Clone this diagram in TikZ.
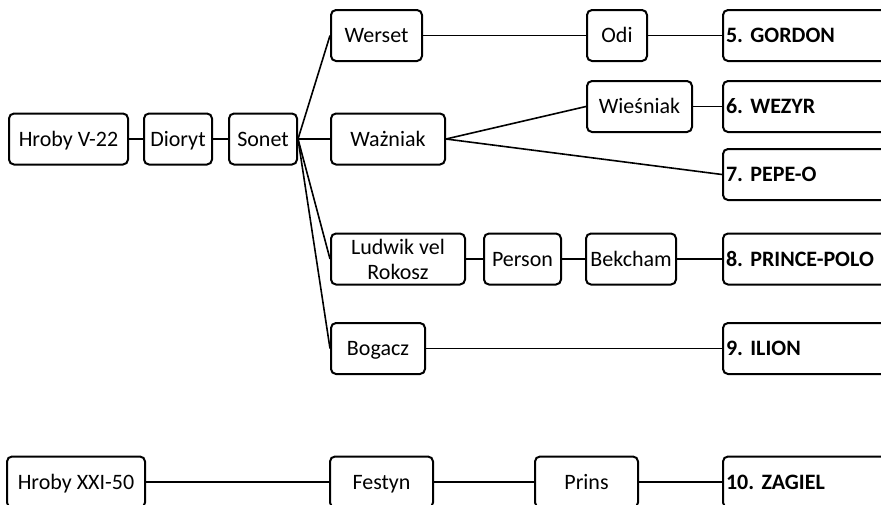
\documentclass[tikz,border=0pt]{standalone}
\usepackage{fontspec}
\setmainfont{Carlito}
\frenchspacing
\begin{document}
\begin{tikzpicture}[x=0.5pt, y=-0.5pt, line width=0.8pt,
  box/.style = {shape=rectangle, rounded corners=2.5pt, draw, line width=1pt,
    align=center, inner sep=0pt, minimum height=25.5pt,
    text height=9.5pt, text depth=2.5pt,
    font=\fontsize{11}{12.5}\selectfont},
  goal/.style = {box, anchor=west, text width=86pt, align=left,
    inner xsep=1.5pt, font=\fontsize{11}{12.5}\selectfont\bfseries}]
  \useasboundingbox (0,0) rectangle (881,504);
  \clip (0,0) rectangle (881,504);
  \node[box, minimum width=59.5pt] (hroby) at (68.5,139) {Hroby V-22};
  \node[box, minimum width=34pt] (dioryt) at (178,139) {Dioryt};
  \node[box, minimum width=34pt] (sonet) at (263,139) {Sonet};
  \node[box, minimum width=45.5pt] (werset) at (376.5,35.5) {Werset};
  \node[box, minimum width=57pt] (wazniak) at (388,139) {Ważniak};
  \node[box, minimum width=67pt, text height={}, text depth={}] (ludwik) at (398,259) {Ludwik vel\\Rokosz};
  \node[box, minimum width=47pt] (bogacz) at (378,348.5) {Bogacz};
  \node[box, minimum width=30pt] (odi) at (617,35.5) {Odi};
  \node[box, minimum width=52.5pt] (wiesniak) at (639.5,106.5) {Wieśniak};
  \node[box, minimum width=38.5pt] (person) at (522.5,259) {Person};
  \node[box, minimum width=45pt] (bekcham) at (631,259) {Bekcham};
  \node[goal] (gordon) at (722,35.5) {5. GORDON};
  \node[goal] (wezyr) at (722,106.5) {6. WEZYR};
  \node[goal] (pepe) at (722,174.5) {7. PEPE-O};
  \node[goal] (prince) at (722,259) {8. PRINCE-POLO};
  \node[goal] (ilion) at (722,348.5) {9. ILION};
  \node[box, minimum width=69pt] (hrobyb) at (76,482) {Hroby XXI-50};
  \node[box, minimum width=51.5pt] (festyn) at (381.5,482) {Festyn};
  \node[box, minimum width=51.5pt] (prins) at (586.5,482) {Prins};
  \node[goal] (zagiel) at (722,482) {10. ZAGIEL};

  \draw (hroby) -- (dioryt) -- (sonet);
  \draw (sonet.east) -- (werset.west);
  \draw (sonet.east) -- (wazniak.west);
  \draw (sonet.east) -- (ludwik.west);
  \draw (sonet.east) -- (bogacz.west);
  \draw (werset) -- (odi) -- (gordon);
  \draw (wazniak.east) -- (wiesniak.west);
  \draw (wazniak.east) -- (pepe.west);
  \draw (wiesniak) -- (wezyr);
  \draw (ludwik) -- (person) -- (bekcham) -- (prince);
  \draw (bogacz) -- (ilion);
  \draw (hrobyb) -- (festyn) -- (prins) -- (zagiel);
\end{tikzpicture}
\end{document}
